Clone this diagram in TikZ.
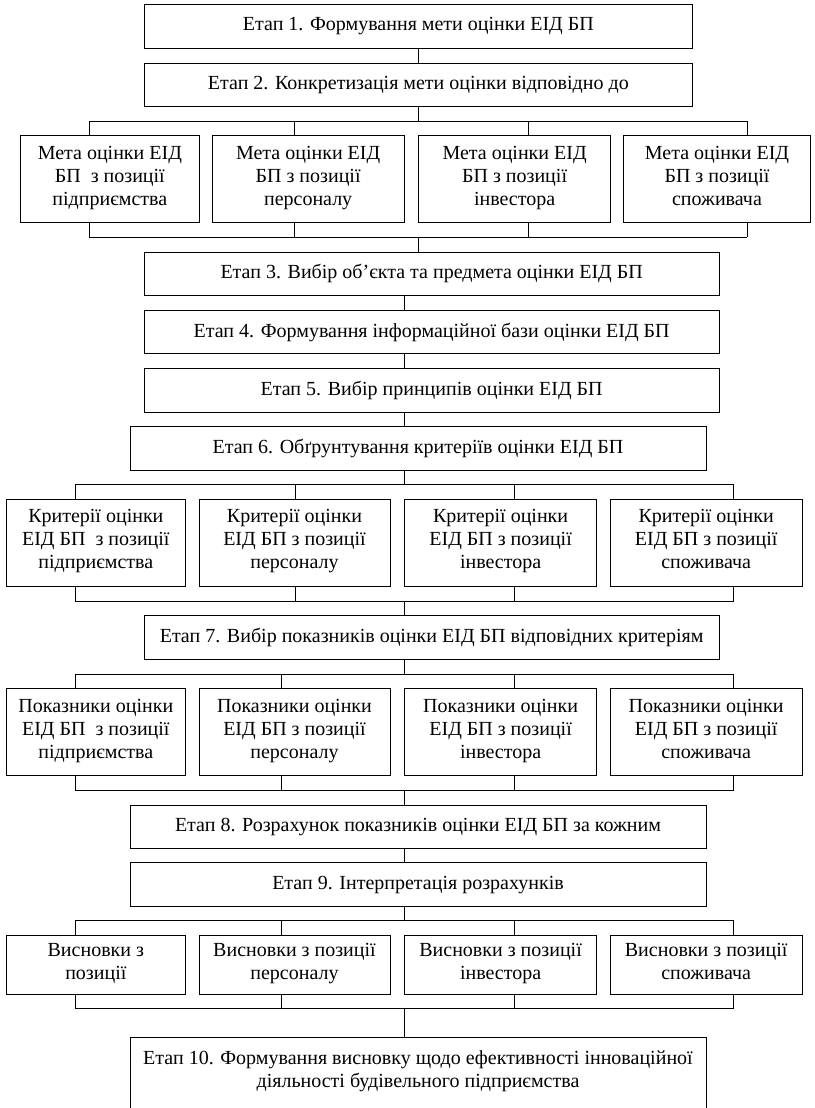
\documentclass[tikz,border=0pt]{standalone}
\usepackage{fontspec}
\setmainfont{Liberation Serif}
\newcommand\boxfont{\fontsize{20}{23}\selectfont}
\tikzset{
  box/.style={draw, line width=1pt, inner sep=0pt, align=center, font=\boxfont},
  txt/.style={inner sep=0pt, align=center, font=\boxfont},
  link/.style={draw, line width=1pt},
}
\begin{document}
\begin{tikzpicture}[x=1pt,y=-1pt]
\useasboundingbox (0,0) rectangle (814,1108);
\clip (0,0) rectangle (814,1108);
% ---- stages ----
\node[box, minimum width=548.7pt, minimum height=43.6pt] (e1) at (418.35,26.5) {Етап 1. Формування мети оцінки ЕІД БП};
\node[box, minimum width=548.7pt, minimum height=43.4pt] (e2) at (418.35,85) {Етап 2. Конкретизація мети оцінки відповідно до};
\node[box, minimum width=575.3pt, minimum height=43.3pt] (e3) at (431.65,273.65) {Етап 3. Вибір об’єкта та предмета оцінки ЕІД БП};
\node[box, minimum width=575.3pt, minimum height=43.4pt] (e4) at (431.65,332) {Етап 4. Формування інформаційної бази оцінки ЕІД БП};
\node[box, minimum width=575.3pt, minimum height=44pt] (e5) at (431.65,390.3) {Етап 5. Вибір принципів оцінки ЕІД БП};
\node[box, minimum width=576pt, minimum height=43.3pt] (e6) at (418,448.35) {Етап 6. Обґрунтування критеріїв оцінки ЕІД БП};
\node[box, minimum width=575.3pt, minimum height=43.3pt] (e7) at (431.65,637.35) {Етап 7. Вибір показників оцінки ЕІД БП відповідних критеріям};
\node[box, minimum width=576pt, minimum height=43.3pt] (e8) at (418,826.65) {Етап 8. Розрахунок показників оцінки ЕІД БП за кожним};
\node[box, minimum width=576pt, minimum height=44pt] (e9) at (418,884.7) {Етап 9. Інтерпретація розрахунків};
\node[box, minimum width=576pt, minimum height=120pt, anchor=north] (e10) at (418,1037.3) {};
\node[txt] (e10t) at (418,1071) {Етап 10. Формування висновку щодо ефективності інноваційної\\діяльності будівельного підприємства};
% ---- meta row ----
\node[box, minimum width=178.3pt, minimum height=87pt] (m1) at (109.85,179.2) {Мета оцінки ЕІД\\БП\ \ з позиції\\підприємства\strut};
\node[box, minimum width=191.7pt, minimum height=87pt] (m2) at (308.15,179.2) {Мета оцінки ЕІД\\БП з позиції\\персоналу\strut};
\node[box, minimum width=192.2pt, minimum height=87pt] (m3) at (514.6,179.2) {Мета оцінки ЕІД\\БП з позиції\\інвестора\strut};
\node[box, minimum width=187.4pt, minimum height=87pt] (m4) at (717,179.2) {Мета оцінки ЕІД\\БП з позиції\\споживача\strut};
% ---- criteria row ----
\node[box, minimum width=178.3pt, minimum height=87pt] (c1) at (95.85,542.5) {Критерії оцінки\\ЕІД БП\ \ з позиції\\підприємства\strut};
\node[box, minimum width=191pt, minimum height=87pt] (c2) at (294.5,542.5) {Критерії оцінки\\ЕІД БП з позиції\\персоналу\strut};
\node[box, minimum width=192.2pt, minimum height=87pt] (c3) at (500.6,542.5) {Критерії оцінки\\ЕІД БП з позиції\\інвестора\strut};
\node[box, minimum width=192.3pt, minimum height=87pt] (c4) at (706.15,542.5) {Критерії оцінки\\ЕІД БП з позиції\\споживача\strut};
% ---- indicators row ----
\node[box, minimum width=178.3pt, minimum height=87.4pt] (p1) at (95.85,732) {Показники оцінки\\ЕІД БП\ \ з позиції\\підприємства\strut};
\node[box, minimum width=191pt, minimum height=87.4pt] (p2) at (294.5,732) {Показники оцінки\\ЕІД БП з позиції\\персоналу\strut};
\node[box, minimum width=192.2pt, minimum height=87.4pt] (p3) at (500.6,732) {Показники оцінки\\ЕІД БП з позиції\\інвестора\strut};
\node[box, minimum width=192.3pt, minimum height=87.4pt] (p4) at (706.15,732) {Показники оцінки\\ЕІД БП з позиції\\споживача\strut};
% ---- conclusions row ----
\node[box, minimum width=178.3pt, minimum height=58.7pt] (v1) at (95.85,964.65) {Висновки з\\позиції\strut};
\node[box, minimum width=191pt, minimum height=58.7pt] (v2) at (294.5,964.65) {Висновки з позиції\\персоналу\strut};
\node[box, minimum width=192.2pt, minimum height=58.7pt] (v3) at (500.6,964.65) {Висновки з позиції\\інвестора\strut};
\node[box, minimum width=192.3pt, minimum height=58.7pt] (v4) at (706.15,964.65) {Висновки з позиції\\споживача\strut};
% ---- connector positions ----
\coordinate (xa) at (418,0);
\coordinate (xb) at (404,0);
\coordinate (mt1) at (89,121.3);  \coordinate (mt2) at (294,121.3);  \coordinate (mt3) at (528,121.3);  \coordinate (mt4) at (747,121.3);
\coordinate (mb1) at (89,237.3);  \coordinate (mb2) at (294,237.3);  \coordinate (mb3) at (528,237.3);  \coordinate (mb4) at (747,237.3);
\coordinate (ct1) at (75.3,484.3); \coordinate (ct2) at (295,484.3); \coordinate (ct3) at (514,484.3); \coordinate (ct4) at (733.7,484.3);
\coordinate (cb1) at (75.3,601);   \coordinate (cb2) at (295,601);   \coordinate (cb3) at (514,601);   \coordinate (cb4) at (733.7,601);
\coordinate (pt1) at (75.3,674);   \coordinate (pt2) at (281,674);   \coordinate (pt3) at (514,674);   \coordinate (pt4) at (733.7,674);
\coordinate (pb1) at (75.3,790);   \coordinate (pb2) at (281,790);   \coordinate (pb3) at (514,790);   \coordinate (pb4) at (733.7,790);
\coordinate (vt1) at (75.3,920.7); \coordinate (vt2) at (281,920.7); \coordinate (vt3) at (514,920.7); \coordinate (vt4) at (733.7,920.7);
\coordinate (vb1) at (75.3,1008.3);\coordinate (vb2) at (281,1008.3);\coordinate (vb3) at (514,1008.3);\coordinate (vb4) at (733.7,1008.3);
% ---- connectors ----
\draw[link] (e1.south) -- (e2.north);
\draw[link] (e2.south) -- (e2.south |- mt1);
\draw[link] (mt1) -- (mt4);
\draw[link] (mb1) -- (mb4);
\draw[link] (mb1 -| xa) -- (e3.north -| xa);
\draw[link] (e3.south -| xb) -- (e4.north -| xb);
\draw[link] (e4.south -| xb) -- (e5.north -| xb);
\draw[link] (e5.south -| xb) -- (e6.north -| xb);
\draw[link] (e6.south -| xb) -- (ct1 -| xb);
\draw[link] (ct1) -- (ct4);
\draw[link] (cb1) -- (cb4);
\draw[link] (cb1 -| xb) -- (e7.north -| xb);
\draw[link] (e7.south -| xb) -- (pt1 -| xb);
\draw[link] (pt1) -- (pt4);
\draw[link] (pb1) -- (pb4);
\draw[link] (pb1 -| xb) -- (e8.north -| xb);
\draw[link] (e8.south -| xb) -- (e9.north -| xb);
\draw[link] (e9.south -| xb) -- (vt1 -| xb);
\draw[link] (vt1) -- (vt4);
\draw[link] (vb1) -- (vb4);
\draw[link] (vb1 -| xb) -- (e10.north -| xb);
\foreach \i in {1,2,3,4} {
  \draw[link] (mt\i) -- (mt\i |- m\i.north);
  \draw[link] (m\i.south -| mb\i) -- (mb\i);
  \draw[link] (ct\i) -- (ct\i |- c\i.north);
  \draw[link] (c\i.south -| cb\i) -- (cb\i);
  \draw[link] (pt\i) -- (pt\i |- p\i.north);
  \draw[link] (p\i.south -| pb\i) -- (pb\i);
  \draw[link] (vt\i) -- (vt\i |- v\i.north);
  \draw[link] (v\i.south -| vb\i) -- (vb\i);
}
\end{tikzpicture}
\end{document}
